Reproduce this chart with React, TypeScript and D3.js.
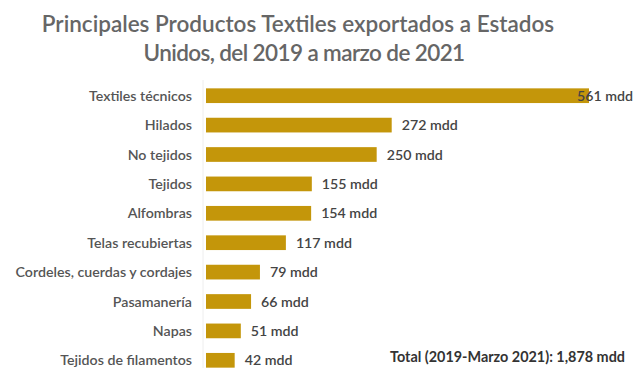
import React from "react";
import * as d3 from "d3";

const categories = [
  "Textiles técnicos",
  "Hilados",
  "No tejidos",
  "Tejidos",
  "Alfombras",
  "Telas recubiertas",
  "Cordeles, cuerdas y cordajes",
  "Pasamanería",
  "Napas",
  "Tejidos de filamentos",
];
const values = [561, 272, 250, 155, 154, 117, 79, 66, 51, 42];
const valueLabels = ["561 mdd", "272 mdd", "250 mdd", "155 mdd", "154 mdd", "117 mdd", "79 mdd", "66 mdd", "51 mdd", "42 mdd"];
const titleLines = ["Principales Productos Textiles exportados a Estados", "Unidos, del 2019 a marzo de 2021"];
const totalLabel = "Total (2019-Marzo 2021): 1,878 mdd";

const W = 644;
const H = 368;
const FONT = "Lato, 'Open Sans', sans-serif";

export default function App() {
  const x = d3.scaleLinear().domain([0, 561]).range([206, 589]);
  const y = d3.scaleBand<string>().domain(categories).range([81, 375]).paddingInner(0.5).paddingOuter(0.25);
  const bh = y.bandwidth();
  return (
    <svg width={W} height={H} style={{ position: "absolute", left: 0, top: 0, background: "#fff" }}>
      <rect x={0} y={0} width={W} height={H} fill="#fff" />
      {titleLines.map((t, i) => (
        <text key={i} x={i === 0 ? 298 : 304} y={32 + i * 29} textAnchor="middle" fontFamily={FONT} fontWeight={600} fontSize={22.5} fill="#666" letterSpacing={i === 0 ? 0 : -0.6}>
          {t}
        </text>
      ))}
      <line x1={203} x2={203} y1={80} y2={H} stroke="#eee" strokeWidth={1} />
      {categories.map((c, i) => {
        const yc = (y(c) as number) + bh / 2;
        const isFirst = i === 0;
        return (
          <g key={c}>
            <rect x={x(0)} y={y(c)} width={x(values[i]) - x(0)} height={bh} fill="#C4960A" />
            <text x={192} y={yc + 5} textAnchor="end" fontFamily={FONT} fontWeight={600} fontSize={14.2} fill="#555">
              {c}
            </text>
            <text x={isFirst ? x(values[i]) - 12 : x(values[i]) + 10} y={yc + 5} fontFamily={FONT} fontWeight={600} fontSize={14.2} fill="#444">
              {valueLabels[i]}
            </text>
          </g>
        );
      })}
      <text x={625} y={362} textAnchor="end" fontFamily={FONT} fontWeight={700} fontSize={14.4} fill="#333">
        {totalLabel}
      </text>
    </svg>
  );
}
